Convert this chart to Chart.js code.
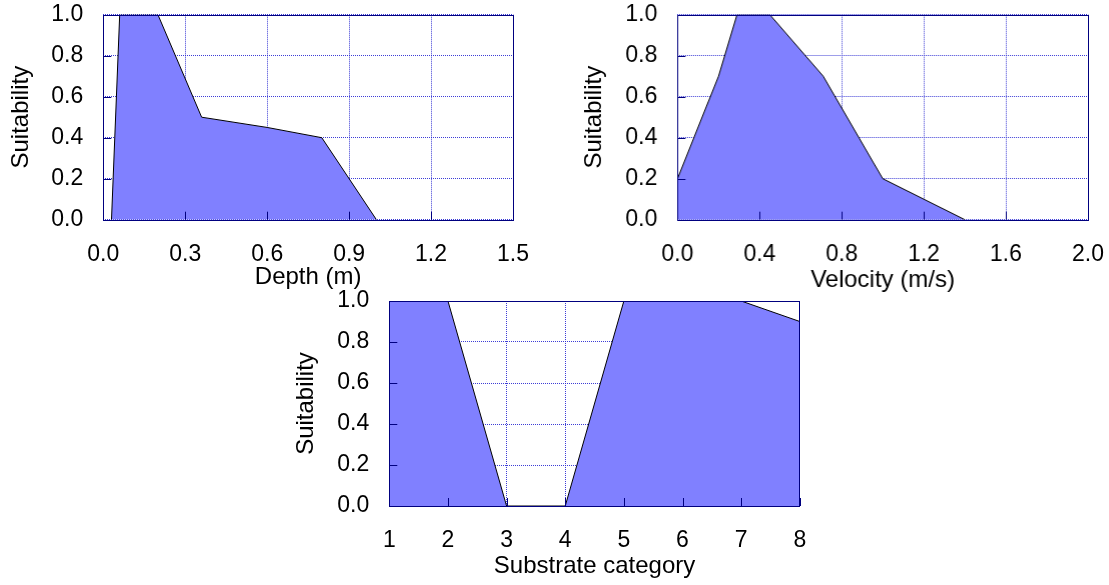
<!DOCTYPE html>
<html>
<head>
<meta charset="utf-8">
<script src="https://cdn.jsdelivr.net/npm/chart.js@4.4.1/dist/chart.umd.min.js"></script>
<style>
  html, body { margin: 0; padding: 0; background: #fff; overflow: hidden; }
  body { width: 1109px; height: 585px; position: relative; }
  .box { position: absolute; }
</style>
</head>
<body>
<div class="box" id="b1" style="left:0px;top:0px;width:540px;height:300px;"><canvas id="c1"></canvas></div>
<div class="box" id="b2" style="left:574.4px;top:0px;width:534.6px;height:300px;"><canvas id="c2"></canvas></div>
<div class="box" id="b3" style="left:286.2px;top:280px;width:541px;height:305px;"><canvas id="c3"></canvas></div>
<script>
// ---- data ----
const depthX = [0.03, 0.06, 0.2, 0.36, 0.6, 0.8, 1.0];
const depthY = [0, 1, 1, 0.5, 0.45, 0.4, 0];
const velocityX = [0, 0.2, 0.29, 0.45, 0.71, 1.0, 1.4];
const velocityY = [0.2, 0.7, 1, 1, 0.7, 0.2, 0];
const substrateX = [1, 2, 3, 4, 5, 6, 7, 8];
const substrateY = [1, 1, 0, 0, 1, 1, 1, 0.9];
const yTitle = 'Suitability';
const xTitles = ['Depth (m)', 'Velocity (m/s)', 'Substrate category'];

const FONT = "'Liberation Sans', Arial, sans-serif";
const NAVY = '#00007f';
const FILL = '#8080ff';
const GRID = 'rgba(40,40,210,0.9)';

const framePlugin = {
  id: 'frame',
  afterDatasetsDraw(chart) {
    const {ctx, chartArea: a, scales} = chart;
    ctx.save();
    ctx.strokeStyle = NAVY;
    ctx.lineWidth = 1;
    ctx.beginPath();
    scales.y.ticks.forEach(t => {
      const y = Math.round(scales.y.getPixelForValue(t.value)) + 0.5;
      ctx.moveTo(a.left, y); ctx.lineTo(a.left + 8, y);
    });
    scales.x.ticks.forEach(t => {
      const x = Math.round(scales.x.getPixelForValue(t.value)) + 0.5;
      ctx.moveTo(x, a.bottom); ctx.lineTo(x, a.bottom - 8);
    });
    ctx.stroke();
    ctx.strokeRect(Math.round(a.left) + 0.5, Math.round(a.top) + 0.5,
                   Math.round(a.right - a.left), Math.round(a.bottom - a.top));
    ctx.restore();
  }
};

function makeChart(id, xs, ys, cfg) {
  const pts = xs.map((x, i) => ({x: x, y: ys[i]}));
  return new Chart(document.getElementById(id), {
    type: 'line',
    data: {
      datasets: [{
        data: pts,
        borderColor: '#000',
        borderWidth: 1,
        backgroundColor: FILL,
        fill: 'origin',
        pointRadius: 0,
        tension: 0
      }]
    },
    options: {
      responsive: true,
      maintainAspectRatio: false,
      animation: false,
      events: [],
      layout: { padding: { left: 0, top: cfg.top, right: cfg.right, bottom: 0 } },
      plugins: { legend: { display: false }, tooltip: { enabled: false } },
      scales: {
        x: {
          type: 'linear',
          min: cfg.xmin, max: cfg.xmax,
          afterFit: s => { s.height = cfg.xh; s.paddingLeft = 0; s.paddingRight = 0; },
          ticks: {
            stepSize: cfg.xstep,
            autoSkip: false,
            maxRotation: 0,
            padding: cfg.xpad,
            color: '#000',
            font: { family: FONT, size: 23 },
            callback: v => cfg.xdec === 0 ? String(Math.round(v)) : Number(v).toFixed(cfg.xdec)
          },
          grid: { color: GRID, lineWidth: 1, drawTicks: false },
          border: { display: false, dash: [1, 1] },
          title: {
            display: true, text: cfg.xtitle, color: '#000',
            font: { family: FONT, size: 24 },
            padding: { top: 0, bottom: cfg.xtpad }
          }
        },
        y: {
          min: 0, max: 1,
          afterFit: s => { s.width = 103.3; s.paddingTop = 0; s.paddingBottom = 0; },
          ticks: {
            stepSize: 0.2,
            padding: 20,
            color: '#000',
            font: { family: FONT, size: 23 },
            callback: v => Number(v).toFixed(1)
          },
          grid: { color: GRID, lineWidth: 1, drawTicks: false },
          border: { display: false, dash: [1, 1] },
          title: {
            display: true, text: yTitle, color: '#000',
            font: { family: FONT, size: 24 },
            padding: { top: cfg.ytpad, bottom: 0 }
          }
        }
      }
    },
    plugins: [framePlugin]
  });
}

Chart.defaults.font.family = FONT;

makeChart('c1', depthX, depthY, {
  top: 14.7, right: 27, xh: 80.3, xmin: 0, xmax: 1.5, xstep: 0.3, xdec: 1,
  xpad: 21, xtitle: xTitles[0], xtpad: 8, ytpad: 7.3
});
makeChart('c2', velocityX, velocityY, {
  top: 14.7, right: 21.6, xh: 80.3, xmin: 0, xmax: 2.0, xstep: 0.4, xdec: 1,
  xpad: 21, xtitle: xTitles[1], xtpad: 5.4, ytpad: 6.1
});
makeChart('c3', substrateX, substrateY, {
  top: 21, right: 27.2, xh: 79, xmin: 1, xmax: 8, xstep: 1, xdec: 0,
  xpad: 21, xtitle: xTitles[2], xtpad: 3.9, ytpad: 6.3
});
</script>
</body>
</html>
